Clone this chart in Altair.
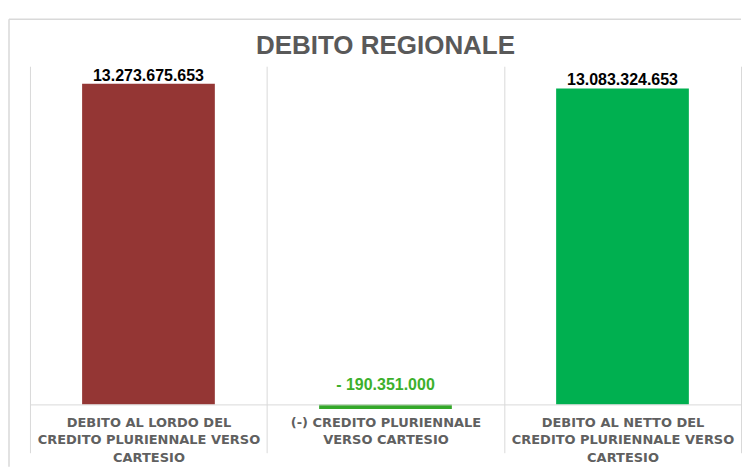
import altair as alt
import pandas as pd

title_text = "DEBITO REGIONALE"
categories = [
    "DEBITO AL LORDO DEL|CREDITO PLURIENNALE VERSO|CARTESIO",
    "(-) CREDITO PLURIENNALE|VERSO CARTESIO",
    "DEBITO AL NETTO DEL|CREDITO PLURIENNALE VERSO|CARTESIO",
]
values = [13273675653, -190351000, 13083324653]
bar_colors = ["#943634", "#33A829", "#00B050"]


def fmt(v):
    s = f"{abs(v):,}".replace(",", ".")
    return ("- " + s) if v < 0 else s


df = pd.DataFrame({"cat": categories, "value": values, "label": [fmt(v) for v in values]})

W, H = 712, 387
YMIN, YMAX = -2e9, 14e9
zero_offset = -H * (0 - YMIN) / (YMAX - YMIN)

x = alt.X(
    "cat:N",
    sort=categories,
    scale=alt.Scale(paddingInner=0, paddingOuter=0),
    axis=alt.Axis(
        title=None,
        orient="bottom",
        offset=zero_offset,
        tickBand="extent",
        grid=True,
        gridColor="#d9d9d9",
        domainColor="#d9d9d9",
        ticks=False,
        labelAngle=0,
        labelExpr="split(datum.label, '|')",
        labelFont="DejaVu Sans",
        labelFontWeight="bold",
        labelFontSize=13,
        labelColor="#606060",
        labelLineHeight=17.5,
        labelPadding=12,
        labelBaseline="top",
        labelLimit=0,
        zindex=1,
    ),
)
y = alt.Y("value:Q", scale=alt.Scale(domain=[YMIN, YMAX], nice=False), axis=None)

base = alt.Chart(df)

bars = base.mark_bar(width=alt.RelativeBandSize(0.56)).encode(
    x=x,
    y=y,
    color=alt.Color("cat:N", scale=alt.Scale(domain=categories, range=bar_colors), legend=None),
)

pos_labels = base.transform_filter("datum.value >= 0").mark_text(
    dy=-3, baseline="alphabetic", font="Liberation Sans", fontWeight="bold", fontSize=16, color="#000000"
).encode(x=x, y=y, text="label:N")

neg_labels = base.transform_filter("datum.value < 0").transform_calculate(zero="0").mark_text(
    dy=-14, baseline="alphabetic", font="Liberation Sans", fontWeight="bold", fontSize=16, color="#3CB02C"
).encode(x=x, y=alt.Y("zero:Q"), text="label:N")

title = alt.Chart(alt.Data(values=[{"t": title_text}])).mark_text(
    baseline="alphabetic", align="center", font="Liberation Sans", fontWeight="bold", fontSize=26, color="#595959"
).encode(x=alt.value(W / 2), y=alt.value(-12), text="t:N")

border_top = alt.Chart(alt.Data(values=[{}])).mark_rule(color="#d9d9d9", strokeWidth=1.5).encode(
    x=alt.value(-21), x2=alt.value(W), y=alt.value(-47)
)
border_left = alt.Chart(alt.Data(values=[{}])).mark_rule(color="#d9d9d9", strokeWidth=1.5).encode(
    x=alt.value(-21), y=alt.value(-47), y2=alt.value(H + 14)
)

chart = alt.layer(bars, pos_labels, neg_labels, title, border_top, border_left).properties(
    width=W,
    height=H,
    padding={"left": 0, "top": 10, "right": 0, "bottom": 0},
).configure_view(stroke=None)

chart.save("out.html", embed_options={"renderer": "svg", "actions": False})
